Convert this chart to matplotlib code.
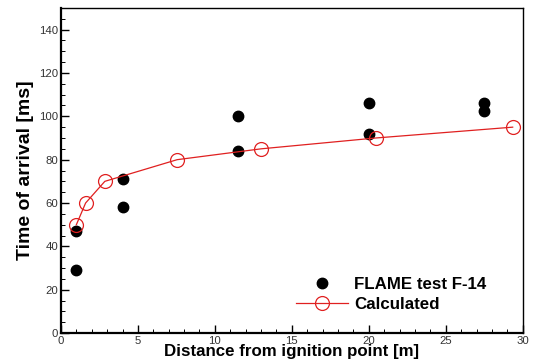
import matplotlib
matplotlib.use('Agg')
import matplotlib.pyplot as plt
from matplotlib.ticker import MultipleLocator

# measured arrival times, FLAME test F-14
test_x = [1.0, 1.0, 4.0, 4.0, 11.5, 11.5, 20.0, 20.0, 27.5, 27.5]
test_t = [29, 47, 71, 58, 100, 84, 106, 92, 106, 102.5]

# calculated arrival times
calc_x = [1.0, 1.6, 2.85, 7.55, 13.0, 20.45, 29.35]
calc_t = [50, 60, 70, 80, 85, 90, 95]

plt.rcParams['font.family'] = ['Liberation Sans', 'DejaVu Sans']

fig = plt.figure(figsize=(5.34, 3.63), dpi=100)
ax = fig.add_axes([0.1142, 0.0826, 0.8646, 0.8954])

ax.plot(test_x, test_t, 'o', color='black', markersize=7.5, linestyle='none',
        label='FLAME test F-14', zorder=3)
ax.plot(calc_x, calc_t, '-o', color='#e02020', linewidth=0.9, markersize=10,
        markerfacecolor='none', markeredgewidth=0.9, label='Calculated', zorder=4)

ax.set_xlim(0, 30)
ax.set_ylim(0, 150)
ax.xaxis.set_major_locator(MultipleLocator(5))
ax.xaxis.set_minor_locator(MultipleLocator(1))
ax.yaxis.set_major_locator(MultipleLocator(20))
ax.yaxis.set_minor_locator(MultipleLocator(5))
ax.tick_params(which='both', direction='in', top=False, right=False,
               labelsize=8.2, labelcolor='#333333', pad=2)
ax.tick_params(which='major', length=6, width=1.0)
ax.tick_params(which='minor', length=3, width=0.7)
ax.set_yticks([0, 20, 40, 60, 80, 100, 120, 140])

for s in ax.spines.values():
    s.set_linewidth(1.0)
ax.spines['left'].set_linewidth(1.6)
ax.spines['bottom'].set_linewidth(1.6)

ax.set_xlabel('Distance from ignition point [m]', fontsize=12.2,
              fontweight='bold', labelpad=-1)
ax.set_ylabel('Time of arrival [ms]', fontsize=14, fontweight='bold', labelpad=4)

leg = ax.legend(loc='lower right', bbox_to_anchor=(0.955, 0.018), frameon=False,
                prop={'weight': 'bold', 'size': 12.2}, handlelength=3.1,
                handletextpad=0.35, labelspacing=0.3)

fig.savefig('out.png', dpi=100)
